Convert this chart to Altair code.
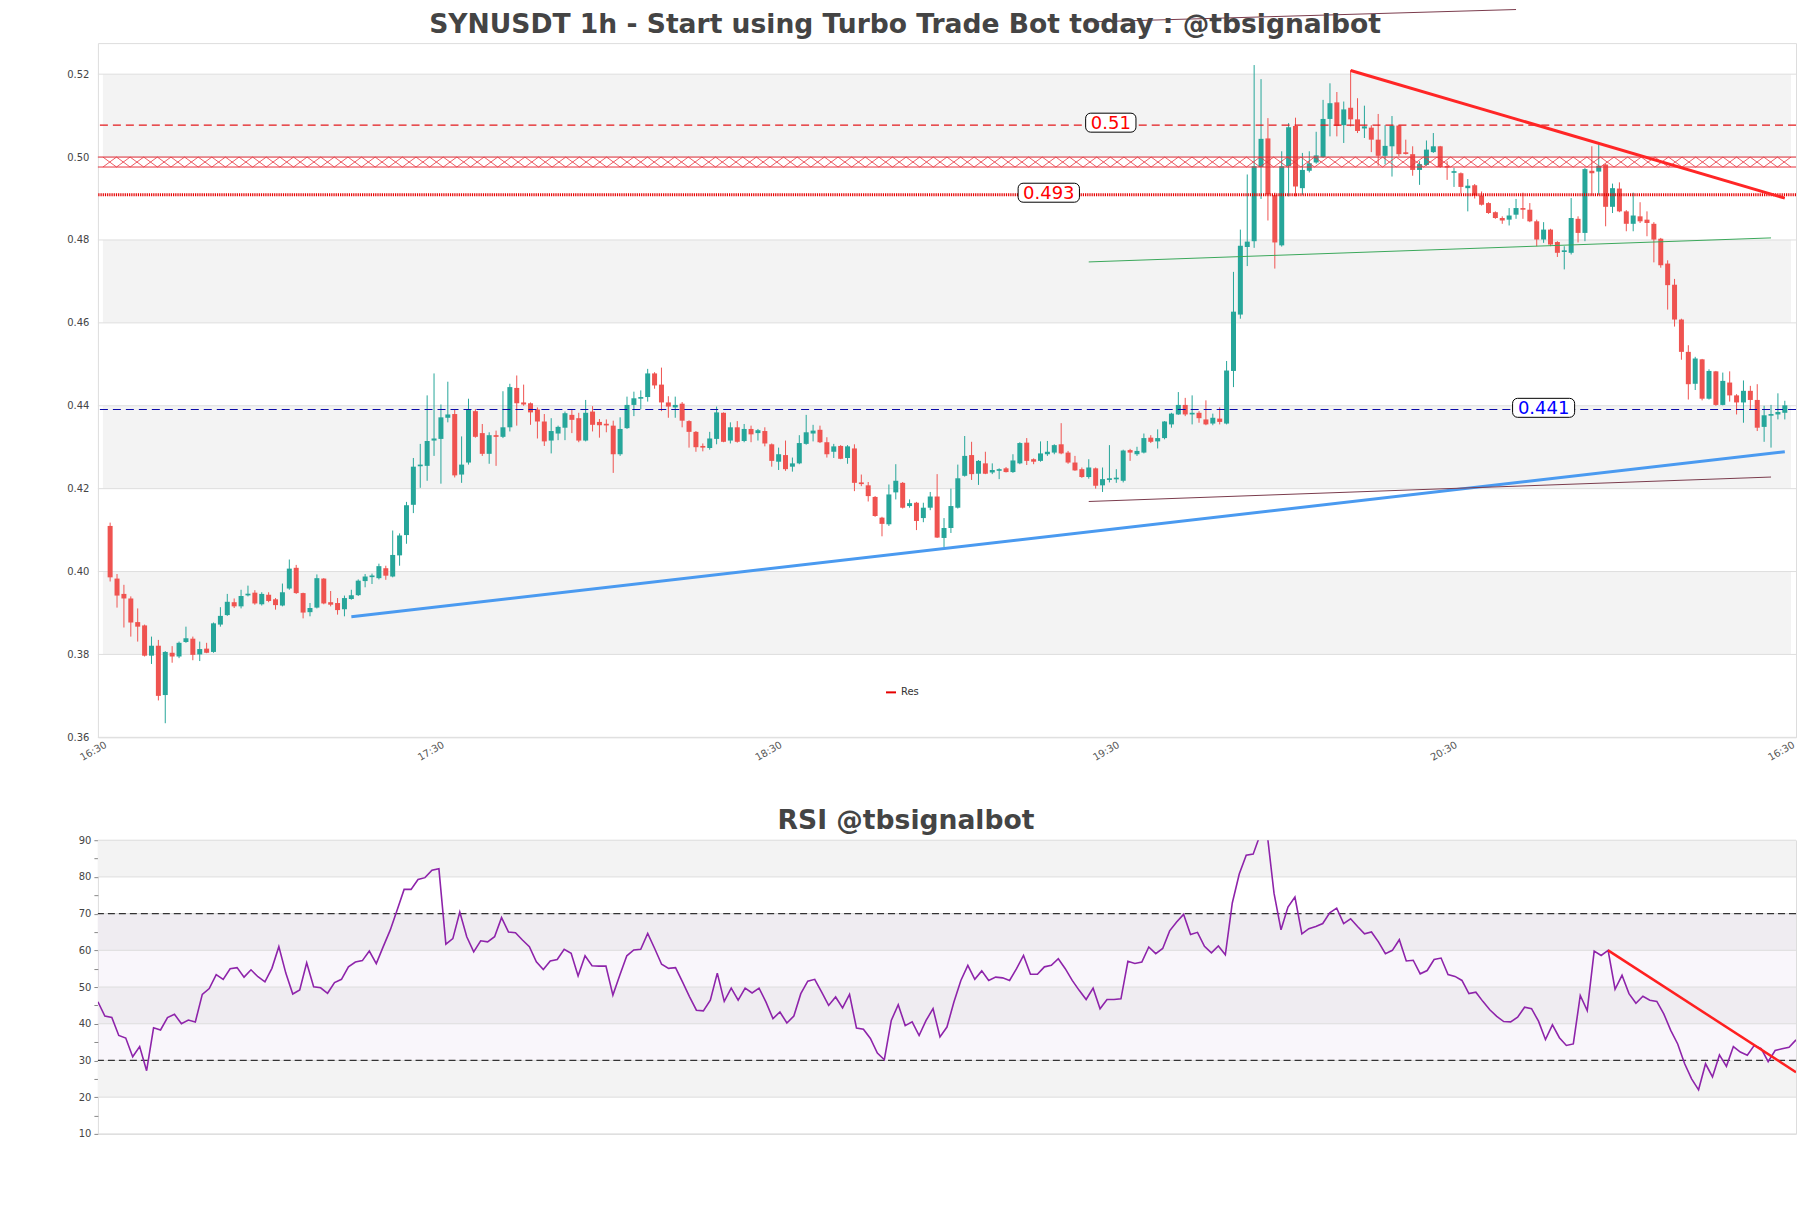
import altair as alt
import pandas as pd

# ---------------- data ----------------
open_ = [0.4110,0.3983,0.3946,0.3935,0.3878,0.3870,0.3797,0.3821,0.3702,0.3804,
0.3795,0.3830,0.3838,0.3800,0.3814,0.3806,0.3872,0.3895,0.3926,0.3916,
0.3943,0.3949,0.3921,0.3944,0.3933,0.3918,0.3959,0.4009,0.3948,0.3902,
0.3913,0.3983,0.3926,0.3924,0.3909,0.3934,0.3943,0.3977,0.3988,0.3984,
0.4008,0.3988,0.4039,0.4088,0.4161,0.4255,0.4255,0.4316,0.4320,0.4371,
0.4380,0.4234,0.4263,0.4387,0.4334,0.4284,0.4329,0.4325,0.4348,0.4443,
0.4408,0.4406,0.4391,0.4362,0.4316,0.4333,0.4347,0.4378,0.4370,0.4316,
0.4386,0.4361,0.4355,0.4352,0.4283,0.4346,0.4402,0.4418,0.4421,0.4478,
0.4451,0.4408,0.4396,0.4405,0.4363,0.4337,0.4303,0.4298,0.4320,0.4383,
0.4316,0.4348,0.4315,0.4344,0.4334,0.4339,0.4307,0.4265,0.4281,0.4253,
0.4261,0.4308,0.4333,0.4342,0.4312,0.4289,0.4303,0.4274,0.4297,0.4214,
0.4208,0.4180,0.4130,0.4114,0.4191,0.4214,0.4158,0.4166,0.4129,0.4154,
0.4181,0.4081,0.4105,0.4154,0.4231,0.4281,0.4236,0.4261,0.4239,0.4244,
0.4249,0.4240,0.4261,0.4311,0.4271,0.4267,0.4283,0.4287,0.4307,0.4287,
0.4263,0.4247,0.4228,0.4249,0.4208,0.4222,0.4224,0.4219,0.4293,0.4283,
0.4287,0.4323,0.4314,0.4322,0.4355,0.4379,0.4402,0.4379,0.4383,0.4367,
0.4357,0.4369,0.4357,0.4484,0.4620,0.4783,0.4797,0.4976,0.5045,0.4908,
0.4787,0.4978,0.5075,0.4925,0.4967,0.4987,0.5000,0.5092,0.5132,0.5077,
0.5119,0.5091,0.5069,0.5071,0.5042,0.5003,0.5026,0.5076,0.5010,0.5007,
0.4969,0.4981,0.5012,0.5026,0.4978,0.4963,0.4961,0.4925,0.4932,0.4907,
0.4889,0.4867,0.4853,0.4849,0.4861,0.4877,0.4873,0.4845,0.4801,0.4825,
0.4795,0.4772,0.4769,0.4851,0.4817,0.4967,0.4965,0.4982,0.4880,0.4924,
0.4869,0.4839,0.4857,0.4849,0.4839,0.4803,0.4743,0.4692,0.4608,0.4530,
0.4453,0.4512,0.4417,0.4483,0.4402,0.4456,0.4425,0.4408,0.4436,0.4414,
0.4349,0.4377,0.4379,0.4383]
high_ = [0.4118,0.3994,0.3968,0.3940,0.3911,0.3872,0.3843,0.3835,0.3808,0.3820,
0.3831,0.3867,0.3843,0.3831,0.3828,0.3877,0.3914,0.3946,0.3935,0.3956,
0.3966,0.3955,0.3950,0.3950,0.3936,0.3971,0.4029,0.4016,0.3949,0.3924,
0.3993,0.3984,0.3953,0.3936,0.3942,0.3956,0.3981,0.3994,0.3995,0.4019,
0.4014,0.4099,0.4092,0.4168,0.4274,0.4308,0.4425,0.4478,0.4403,0.4458,
0.4391,0.4326,0.4417,0.4392,0.4356,0.4336,0.4340,0.4435,0.4453,0.4473,
0.4451,0.4408,0.4396,0.4380,0.4370,0.4352,0.4386,0.4392,0.4383,0.4414,
0.4399,0.4368,0.4367,0.4364,0.4372,0.4422,0.4434,0.4437,0.4489,0.4481,
0.4492,0.4423,0.4422,0.4409,0.4365,0.4339,0.4309,0.4337,0.4398,0.4384,
0.4360,0.4363,0.4356,0.4352,0.4344,0.4348,0.4309,0.4299,0.4316,0.4275,
0.4329,0.4378,0.4354,0.4352,0.4324,0.4308,0.4305,0.4305,0.4307,0.4234,
0.4216,0.4182,0.4132,0.4210,0.4259,0.4216,0.4174,0.4168,0.4166,0.4192,
0.4235,0.4129,0.4200,0.4258,0.4327,0.4313,0.4269,0.4289,0.4261,0.4249,
0.4252,0.4283,0.4312,0.4322,0.4273,0.4314,0.4315,0.4307,0.4358,0.4291,
0.4279,0.4251,0.4271,0.4251,0.4251,0.4305,0.4247,0.4294,0.4296,0.4301,
0.4333,0.4329,0.4343,0.4363,0.4383,0.4433,0.4419,0.4425,0.4387,0.4413,
0.4381,0.4396,0.4508,0.4723,0.4825,0.4958,0.5222,0.5188,0.5094,0.4914,
0.5014,0.5082,0.5095,0.5010,0.5014,0.5061,0.5138,0.5178,0.5157,0.5134,
0.5210,0.5142,0.5124,0.5077,0.5104,0.5077,0.5099,0.5077,0.5042,0.5026,
0.4990,0.5040,0.5058,0.5027,0.4990,0.4974,0.4963,0.4947,0.4935,0.4917,
0.4891,0.4869,0.4857,0.4877,0.4899,0.4914,0.4889,0.4849,0.4843,0.4827,
0.4797,0.4785,0.4901,0.4857,0.4974,0.5026,0.5030,0.4984,0.4936,0.4939,
0.4872,0.4914,0.4891,0.4869,0.4843,0.4805,0.4751,0.4706,0.4610,0.4546,
0.4518,0.4513,0.4488,0.4484,0.4480,0.4483,0.4428,0.4461,0.4448,0.4452,
0.4400,0.4402,0.4430,0.4412]
low_ = [0.3976,0.3913,0.3865,0.3843,0.3831,0.3795,0.3777,0.3689,0.3634,0.3780,
0.3791,0.3828,0.3786,0.3784,0.3803,0.3804,0.3867,0.3893,0.3912,0.3911,
0.3940,0.3920,0.3918,0.3926,0.3908,0.3916,0.3956,0.3946,0.3887,0.3892,
0.3911,0.3921,0.3916,0.3896,0.3892,0.3932,0.3941,0.3962,0.3970,0.3981,
0.3980,0.3986,0.4014,0.4067,0.4141,0.4202,0.4219,0.4279,0.4212,0.4360,
0.4227,0.4214,0.4258,0.4323,0.4279,0.4260,0.4255,0.4322,0.4338,0.4352,
0.4400,0.4354,0.4321,0.4303,0.4285,0.4317,0.4317,0.4334,0.4312,0.4314,
0.4338,0.4323,0.4336,0.4238,0.4279,0.4344,0.4375,0.4392,0.4410,0.4441,
0.4387,0.4371,0.4371,0.4348,0.4299,0.4289,0.4290,0.4294,0.4307,0.4312,
0.4309,0.4311,0.4312,0.4312,0.4316,0.4302,0.4253,0.4245,0.4243,0.4241,
0.4259,0.4306,0.4314,0.4310,0.4275,0.4274,0.4271,0.4260,0.4194,0.4206,
0.4169,0.4132,0.4085,0.4110,0.4174,0.4152,0.4154,0.4100,0.4119,0.4148,
0.4081,0.4059,0.4093,0.4152,0.4229,0.4221,0.4209,0.4235,0.4235,0.4223,
0.4239,0.4238,0.4259,0.4257,0.4259,0.4265,0.4279,0.4283,0.4283,0.4260,
0.4243,0.4226,0.4224,0.4200,0.4192,0.4215,0.4214,0.4215,0.4267,0.4279,
0.4285,0.4310,0.4297,0.4319,0.4347,0.4378,0.4375,0.4355,0.4359,0.4353,
0.4353,0.4355,0.4355,0.4445,0.4610,0.4737,0.4781,0.4899,0.4847,0.4731,
0.4784,0.4905,0.4905,0.4909,0.4963,0.4984,0.4998,0.5050,0.5050,0.5034,
0.5074,0.5058,0.5046,0.5012,0.4979,0.4982,0.4953,0.5002,0.5006,0.4955,
0.4933,0.4979,0.5010,0.4974,0.4945,0.4928,0.4912,0.4869,0.4900,0.4883,
0.4863,0.4851,0.4839,0.4835,0.4851,0.4851,0.4843,0.4785,0.4793,0.4785,
0.4759,0.4729,0.4765,0.4794,0.4797,0.4907,0.4909,0.4833,0.4865,0.4867,
0.4821,0.4821,0.4841,0.4809,0.4746,0.4733,0.4632,0.4591,0.4511,0.4415,
0.4438,0.4413,0.4415,0.4400,0.4401,0.4410,0.4379,0.4359,0.4391,0.4339,
0.4313,0.4299,0.4367,0.4367]
close_ = [0.3986,0.3942,0.3935,0.3877,0.3867,0.3797,0.3821,0.3700,0.3806,0.3795,
0.3828,0.3839,0.3799,0.3813,0.3804,0.3875,0.3893,0.3927,0.3916,0.3941,
0.3946,0.3923,0.3946,0.3929,0.3919,0.3950,0.4007,0.3948,0.3901,0.3912,
0.3984,0.3923,0.3920,0.3907,0.3936,0.3943,0.3978,0.3988,0.3989,0.4013,
0.3990,0.4040,0.4087,0.4160,0.4253,0.4257,0.4315,0.4321,0.4372,0.4379,
0.4232,0.4258,0.4391,0.4325,0.4284,0.4329,0.4325,0.4348,0.4445,0.4406,
0.4403,0.4384,0.4362,0.4314,0.4339,0.4349,0.4382,0.4366,0.4316,0.4383,
0.4354,0.4353,0.4354,0.4283,0.4344,0.4402,0.4418,0.4420,0.4478,0.4449,
0.4408,0.4398,0.4402,0.4364,0.4337,0.4300,0.4299,0.4321,0.4384,0.4313,
0.4348,0.4313,0.4344,0.4331,0.4341,0.4309,0.4267,0.4283,0.4247,0.4261,
0.4310,0.4336,0.4340,0.4312,0.4283,0.4302,0.4272,0.4302,0.4214,0.4212,
0.4182,0.4134,0.4115,0.4186,0.4219,0.4154,0.4165,0.4122,0.4154,0.4181,
0.4082,0.4105,0.4158,0.4225,0.4279,0.4235,0.4267,0.4236,0.4245,0.4246,
0.4240,0.4268,0.4310,0.4267,0.4265,0.4285,0.4289,0.4305,0.4285,0.4263,
0.4244,0.4228,0.4251,0.4207,0.4223,0.4224,0.4225,0.4292,0.4287,0.4291,
0.4322,0.4313,0.4322,0.4362,0.4381,0.4402,0.4379,0.4383,0.4370,0.4355,
0.4371,0.4361,0.4485,0.4627,0.4786,0.4796,0.4978,0.5044,0.4910,0.4794,
0.4978,0.5072,0.4929,0.4969,0.4985,0.5004,0.5092,0.5130,0.5075,0.5115,
0.5091,0.5063,0.5074,0.5042,0.5003,0.5027,0.5076,0.5007,0.5009,0.4969,
0.4983,0.5018,0.5026,0.4976,0.4975,0.4965,0.4928,0.4931,0.4907,0.4885,
0.4865,0.4853,0.4847,0.4859,0.4877,0.4873,0.4845,0.4801,0.4825,0.4789,
0.4769,0.4774,0.4853,0.4817,0.4971,0.4961,0.4979,0.4880,0.4925,0.4869,
0.4839,0.4859,0.4845,0.4841,0.4801,0.4739,0.4691,0.4608,0.4530,0.4452,
0.4514,0.4417,0.4484,0.4402,0.4460,0.4425,0.4408,0.4436,0.4414,0.4347,
0.4377,0.4379,0.4385,0.4401]

rsi_values = [46.0,42.1,41.7,36.8,36.1,31.0,33.8,27.2,38.9,38.3,
41.7,42.6,40.0,41.0,40.5,48.0,49.6,53.4,52.1,55.0,
55.3,52.7,54.7,52.8,51.4,55.1,61.0,53.8,48.1,49.2,
56.6,50.1,49.8,48.3,51.2,52.1,55.5,56.8,57.2,59.8,
56.4,61.0,65.5,71.0,76.6,76.6,79.3,79.8,81.8,82.2,
61.7,63.2,70.4,63.7,59.6,62.6,62.3,63.7,68.9,65.0,
64.8,62.8,61.0,56.9,54.8,57.1,57.5,60.3,59.2,53.0,
58.5,55.8,55.7,55.7,47.8,53.3,58.5,60.1,60.3,64.6,
60.5,56.2,55.1,55.3,51.4,47.4,43.7,43.5,46.4,53.8,
46.1,49.7,46.4,49.7,48.4,49.7,45.9,41.4,43.2,40.2,
42.1,48.2,51.6,52.1,48.6,45.0,47.3,44.3,48.0,38.8,
38.5,36.0,32.0,30.2,40.9,45.2,39.5,40.5,36.8,40.9,
44.1,36.4,39.1,45.9,51.8,55.9,52.1,54.4,51.8,52.7,
52.5,51.8,55.0,58.6,53.5,53.5,55.5,55.9,57.7,55.0,
51.8,49.1,46.6,49.7,44.1,46.6,46.6,46.8,57.0,56.4,
56.8,60.9,59.1,60.5,65.3,67.7,69.8,64.3,64.9,61.1,
59.3,61.2,58.8,72.9,80.8,85.9,86.2,91.5,92.0,75.5,
65.6,71.8,74.5,64.5,65.9,66.5,67.3,70.2,71.5,67.3,
68.6,66.5,64.5,65.0,62.3,59.1,60.0,62.9,57.1,57.3,
53.6,54.5,57.5,57.9,53.4,52.9,51.8,48.2,48.6,46.1,
43.8,42.0,40.6,40.5,41.8,44.5,44.1,40.7,35.7,39.7,
36.2,34.1,34.5,47.7,43.6,59.8,58.6,60.0,49.4,53.2,
48.2,45.6,47.5,46.4,46.1,42.7,38.2,34.5,29.1,25.0,
22.0,29.1,25.5,31.5,28.4,33.8,32.3,31.4,34.1,33.2,
29.7,32.7,33.2,33.6,35.6]

x_labels = ["16:30", "17:30", "18:30", "19:30", "20:30", "16:30"]
price_ticks = [0.36, 0.38, 0.40, 0.42, 0.44, 0.46, 0.48, 0.50, 0.52]
price_bands = [(0.38, 0.40), (0.42, 0.44), (0.46, 0.48), (0.50, 0.52)]
rsi_ticks = [10, 20, 30, 40, 50, 60, 70, 80, 90]
rsi_minor = [15, 25, 35, 45, 55, 65, 75, 85]
rsi_bands = [(20, 30), (40, 50), (60, 70), (80, 90)]
rsi_zone = (30, 70)

level_051 = 0.5077
level_res = 0.4909
level_441 = 0.4391
hatch_top, hatch_bottom = 0.5000, 0.4976

trend_blue = {"x": [35, 243], "y": [0.3891, 0.4289]}
trend_red = {"x": [180, 243], "y": [0.5209, 0.4901]}
trend_green = {"x": [142, 241], "y": [0.4747, 0.4805]}
trend_maroon_low = {"x": [142, 241], "y": [0.4169, 0.4228]}
trend_maroon_high = {"x": [142, 204], "y": [0.5326, 0.5356]}
rsi_trend = {"x": [217, 244], "y": [60.0, 26.8]}

label_text = ["0.51", "0.493", "0.441"]
label_x = [145.2, 136.2, 208.0]
label_y = [0.5083, 0.4914, 0.4395]
label_w = [7.3, 8.9, 9.0]
label_color = ["#ff0000", "#ff0000", "#0000ff"]

# ---------------- chart ----------------
N = len(open_)
X_MIN, X_MAX = -1.05, 243.9
Y_MIN, Y_MAX = 0.36, 0.5275
W, H_MAIN, H_RSI = 1700, 695, 294
GREEN, RED = "#26a69a", "#ef5350"
FONT = "DejaVu Sans"

candles = pd.DataFrame({"i": list(range(N)), "o": open_, "h": high_, "l": low_, "c": close_})
candles["top"] = candles[["o", "c"]].max(axis=1)
candles["bot"] = candles[["o", "c"]].min(axis=1)
small = (candles["top"] - candles["bot"]) < 0.0004
mid = (candles["top"] + candles["bot"]) / 2
candles.loc[small, "top"] = mid[small] + 0.0002
candles.loc[small, "bot"] = mid[small] - 0.0002

step = (X_MAX - X_MIN) / 5
x_tick_vals = [X_MIN + k * step for k in range(6)]
label_arr = "[" + ",".join("'%s'" % s for s in x_labels) + "]"
x_axis = alt.Axis(values=x_tick_vals, labelExpr=f"{label_arr}[round((datum.value - ({X_MIN}))/{step})]",
                  labelAngle=-30, labelAlign="right", labelBaseline="top", labelFlush=False,
                  labelOverlap=False, labelBound=False, ticks=False, domain=False, grid=False,
                  labelFontSize=10, labelColor="#555555", labelFont=FONT, labelPadding=2, title=None)
xs = alt.Scale(domain=[X_MIN, X_MAX], nice=False, zero=False)
ys = alt.Scale(domain=[Y_MIN, Y_MAX], nice=False, zero=False)
y_axis = alt.Axis(values=price_ticks, format=".2f", ticks=False, domain=False, grid=False,
                  labelFontSize=10, labelColor="#444444", labelFont=FONT, labelPadding=9, title=None)

def X(field):
    return alt.X(field, type="quantitative", scale=xs, axis=x_axis)

def Y(field):
    return alt.Y(field, type="quantitative", scale=ys, axis=y_axis)

band_df = pd.DataFrame({"x1": X_MIN, "x2": X_MAX,
                        "y1": [b[0] for b in price_bands], "y2": [b[1] for b in price_bands]})
bands = alt.Chart(band_df).mark_rect(fill="#f3f3f3").encode(x=X("x1"), x2="x2", y=Y("y1"), y2="y2")

grid = alt.Chart(pd.DataFrame({"v": price_ticks})).mark_rule(color="#dedede", strokeWidth=1).encode(y=Y("v"))

# red cross-hatched zone (zigzag texture between its two edges)
cells = 124
hx, hy, hs = [], [], []
for k in range(cells + 1):
    xv = X_MIN + k * (X_MAX - X_MIN) / cells
    hx += [xv, xv]
    hy += [hatch_top if k % 2 == 0 else hatch_bottom, hatch_bottom if k % 2 == 0 else hatch_top]
    hs += ["A", "B"]
hatch_df = pd.DataFrame({"x": hx, "y": hy, "s": hs})
hatch = alt.Chart(hatch_df).mark_line(color="#e8323c", strokeWidth=0.8).encode(
    x=X("x"), y=Y("y"), detail="s:N", order="x:Q")
hatch_edges = alt.Chart(pd.DataFrame({"v": [hatch_top, hatch_bottom]})).mark_rule(
    color="#e8323c", strokeWidth=1).encode(y=Y("v"))

wicks = alt.Chart(candles).mark_rule(strokeWidth=1).encode(
    x=X("i"), y=Y("l"), y2="h",
    color=alt.condition("datum.c >= datum.o", alt.value(GREEN), alt.value(RED)))
bodies = alt.Chart(candles).mark_bar(size=5).encode(
    x=X("i"), y=Y("bot"), y2="top",
    color=alt.condition("datum.c >= datum.o", alt.value(GREEN), alt.value(RED)))

lvl051 = alt.Chart(pd.DataFrame({"v": [level_051]})).mark_rule(
    color="#e41a1c", strokeWidth=1.2, strokeDash=[8, 5]).encode(y=Y("v"))
lvl441 = alt.Chart(pd.DataFrame({"v": [level_441]})).mark_rule(
    color="#0a0aa8", strokeWidth=1.2, strokeDash=[8, 5]).encode(y=Y("v"))
res = alt.Chart(pd.DataFrame({"v": [level_res], "name": ["Res"]})).mark_rule(
    strokeWidth=3, strokeDash=[1.2, 1]).encode(
    y=Y("v"),
    color=alt.Color("name:N", scale=alt.Scale(domain=["Res"], range=["#e60000"]),
                    legend=alt.Legend(title=None, orient="none", legendX=788, legendY=644,
                                      symbolType="stroke", symbolStrokeWidth=2, symbolSize=100,
                                      symbolDash=[10, 0], labelFontSize=10, labelFont=FONT,
                                      labelColor="#333333", padding=0)))

def tline(d, color, width, clip=True):
    return alt.Chart(pd.DataFrame(d)).mark_line(color=color, strokeWidth=width, clip=clip).encode(
        x=X("x"), y=Y("y"))

t_blue = tline(trend_blue, "#4a9af0", 3)
t_red = tline(trend_red, "#ff2626", 3)
t_green = tline(trend_green, "#3aa85a", 1)
t_mlow = tline(trend_maroon_low, "#7a3b4c", 1)
t_mhigh = tline(trend_maroon_high, "#7a3b4c", 1, clip=False)

lab_df = pd.DataFrame({"t": label_text, "x": label_x, "y": label_y, "w": label_w, "col": label_color})
lab_df["x1"] = lab_df["x"] - lab_df["w"] / 2
lab_df["x2"] = lab_df["x"] + lab_df["w"] / 2
lab_df["y1"] = lab_df["y"] - 0.00229
lab_df["y2"] = lab_df["y"] + 0.00229
lab_box = alt.Chart(lab_df).mark_rect(fill="white", stroke="black", strokeWidth=1, cornerRadius=5).encode(
    x=X("x1"), x2="x2", y=Y("y1"), y2="y2")
lab_txt = alt.Chart(lab_df).mark_text(fontSize=18, font=FONT, baseline="middle", align="center", dy=1).encode(
    x=X("x"), y=Y("y"), text="t:N", color=alt.Color("col:N", scale=None))

main = alt.layer(bands, grid, wicks, bodies, hatch, hatch_edges, lvl051, lvl441, res,
                 t_blue, t_green, t_mlow, t_mhigh, t_red, lab_box, lab_txt).properties(
    width=W, height=H_MAIN,
    title=alt.TitleParams("SYNUSDT 1h - Start using Turbo Trade Bot today : @tbsignalbot",
                          fontSize=26.6, font=FONT, fontWeight="bold", color="#444444",
                          anchor="middle", dx=-42, offset=-31.5))

# ---------------- RSI panel ----------------
rxs = alt.Scale(domain=[0, len(rsi_values) - 1], nice=False, zero=False)
rys = alt.Scale(domain=[10, 90], nice=False, zero=False)
r_axis = alt.Axis(values=sorted(rsi_ticks + rsi_minor),
                  labelExpr="datum.value % 10 == 0 ? datum.label : ''",
                  ticks=True, tickSize=4, tickColor="#888888", domain=False, grid=False,
                  labelFontSize=10, labelColor="#444444", labelFont=FONT, labelPadding=3, title=None)

def RX(field):
    return alt.X(field, type="quantitative", scale=rxs, axis=None)

def RY(field):
    return alt.Y(field, type="quantitative", scale=rys, axis=r_axis)

rb_df = pd.DataFrame({"x1": 0, "x2": len(rsi_values) - 1,
                      "y1": [b[0] for b in rsi_bands], "y2": [b[1] for b in rsi_bands]})
r_bands = alt.Chart(rb_df).mark_rect(fill="#f3f3f3").encode(x=RX("x1"), x2="x2", y=RY("y1"), y2="y2")
rz_df = pd.DataFrame({"x1": [0], "x2": [len(rsi_values) - 1], "y1": [rsi_zone[0]], "y2": [rsi_zone[1]]})
r_zone = alt.Chart(rz_df).mark_rect(fill="#dccbeb", opacity=0.18).encode(x=RX("x1"), x2="x2", y=RY("y1"), y2="y2")
r_grid = alt.Chart(pd.DataFrame({"v": rsi_ticks})).mark_rule(color="#dedede").encode(y=RY("v"))
r_lvls = alt.Chart(pd.DataFrame({"v": list(rsi_zone)})).mark_rule(
    color="#333333", strokeWidth=1.2, strokeDash=[7, 4]).encode(y=RY("v"))
rsi_df = pd.DataFrame({"j": list(range(len(rsi_values))), "r": rsi_values})
r_line = alt.Chart(rsi_df).mark_line(color="#8e24aa", strokeWidth=1.6, clip=True).encode(x=RX("j"), y=RY("r"))
r_trend = alt.Chart(pd.DataFrame(rsi_trend)).mark_line(color="#ff2020", strokeWidth=2.5, clip=True).encode(
    x=RX("x"), y=RY("y"))

rsi = alt.layer(r_bands, r_zone, r_grid, r_lvls, r_line, r_trend).properties(
    width=W, height=H_RSI,
    title=alt.TitleParams("RSI @tbsignalbot", fontSize=26.6, font=FONT, fontWeight="bold",
                          color="#444444", anchor="middle", dx=-41, offset=1))

chart = alt.vconcat(main, rsi, spacing=43).properties(
    padding={"left": 58, "top": -2.5, "right": 5, "bottom": 5}
).configure_view(stroke="#dddddd", strokeWidth=1).configure(background="white")

chart.save("out.html", embed_options={"renderer": "svg", "actions": False})
